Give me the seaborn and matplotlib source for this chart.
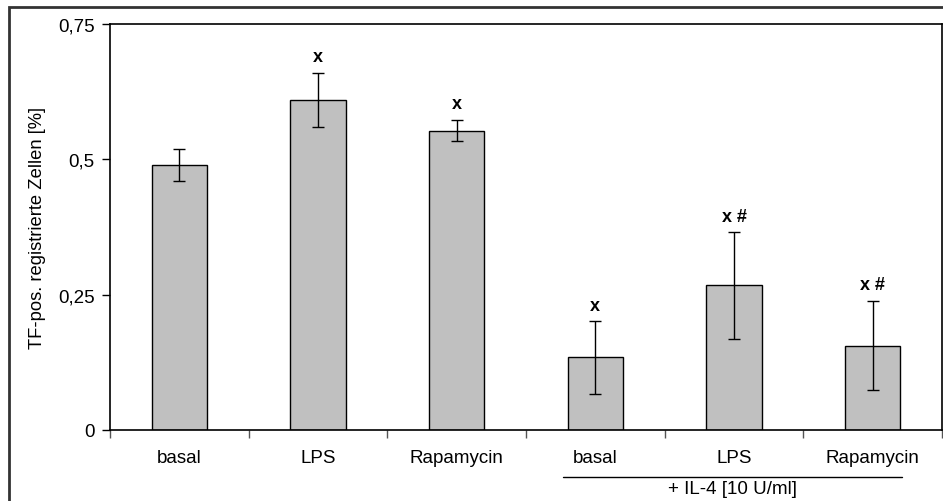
import matplotlib
matplotlib.use("Agg")
import matplotlib.pyplot as plt
import seaborn as sns
import pandas as pd
import numpy as np
from matplotlib.patches import Rectangle
from matplotlib.lines import Line2D

sns.set_theme(style="white")
plt.rcParams['font.family'] = ['Liberation Sans', 'DejaVu Sans']

# ---- data ----
keys = ["basal", "LPS", "Rapamycin", "IL4 basal", "IL4 LPS", "IL4 Rapamycin"]
tick_labels = ["basal", "LPS", "Rapamycin", "basal", "LPS", "Rapamycin"]
values = [0.49, 0.61, 0.553, 0.134, 0.267, 0.156]
errors = [0.03, 0.05, 0.02, 0.067, 0.098, 0.083]
annotations = ["", "x", "x", "x", "x #", "x #"]
group_label = "+ IL-4 [10 U/ml]"
y_label = "TF-pos. registrierte Zellen [%]"
y_ticks = [0, 0.25, 0.5, 0.75]
y_ticklabels = ["0", "0,25", "0,5", "0,75"]

FS = 13.5

df = pd.DataFrame({"cond": keys, "value": values})

W, H = 943, 502
fig = plt.figure(figsize=(W / 100, H / 100), dpi=100)
ax = fig.add_axes([110 / W, 1 - 431 / H, (942 - 110) / W, (431 - 25) / H])

sns.barplot(data=df, x="cond", y="value", order=keys, color="#C0C0C0",
            width=0.4, edgecolor="black", linewidth=1.0, saturation=1,
            errorbar=None, ax=ax)
for p in ax.patches:
    p.set_facecolor("#C0C0C0")

xs = np.arange(len(keys))
ax.errorbar(xs, values, yerr=errors, fmt="none", ecolor="black",
            elinewidth=1.0, capsize=4.5, capthick=1.0, zorder=5)

for x, v, e, a in zip(xs, values, errors, annotations):
    if a:
        ax.text(x, v + e + 0.021, a, ha="center", va="baseline",
                fontsize=13, fontweight="bold", color="black")

ax.set_xlim(-0.5, len(keys) - 0.5)
ax.set_ylim(0, 0.75)
ax.set_yticks(y_ticks)
ax.set_yticklabels(y_ticklabels, fontsize=FS, color="black")
ax.set_ylabel(y_label, fontsize=13.2, color="black", labelpad=9)
ax.set_xlabel("")

# x: boundary ticks as major, labels at centers as minor
ax.set_xticks(np.arange(-0.5, len(keys), 1.0))
ax.set_xticklabels([])
ax.set_xticks(xs, minor=True)
ax.set_xticklabels(tick_labels, minor=True, fontsize=FS, color="black")
ax.tick_params(axis="x", which="major", direction="out", length=6, width=1, color="#555555", bottom=True)
ax.tick_params(axis="x", which="minor", length=0, pad=14)
ax.tick_params(axis="y", direction="out", length=6, width=1, color="black", left=True, pad=5)

for s in ax.spines.values():
    s.set_visible(True)
    s.set_color("black")
    s.set_linewidth(1.2)

# group bracket line and label
line = Line2D([563 / W, 902 / W], [1 - 478 / H, 1 - 478 / H], transform=fig.transFigure,
              color="black", linewidth=1.0)
fig.add_artist(line)
fig.text((563 + 902) / 2 / W, 1 - 490 / H, group_label, ha="center", va="center",
         fontsize=FS, color="black")

# outer frame
frame = Rectangle((9 / W, -0.1), 1.2, (1 - 8 / H) + 0.1, transform=fig.transFigure,
                  fill=False, edgecolor="#333333", linewidth=2.0)
fig.add_artist(frame)

fig.savefig("out.png", dpi=100, facecolor="white")
